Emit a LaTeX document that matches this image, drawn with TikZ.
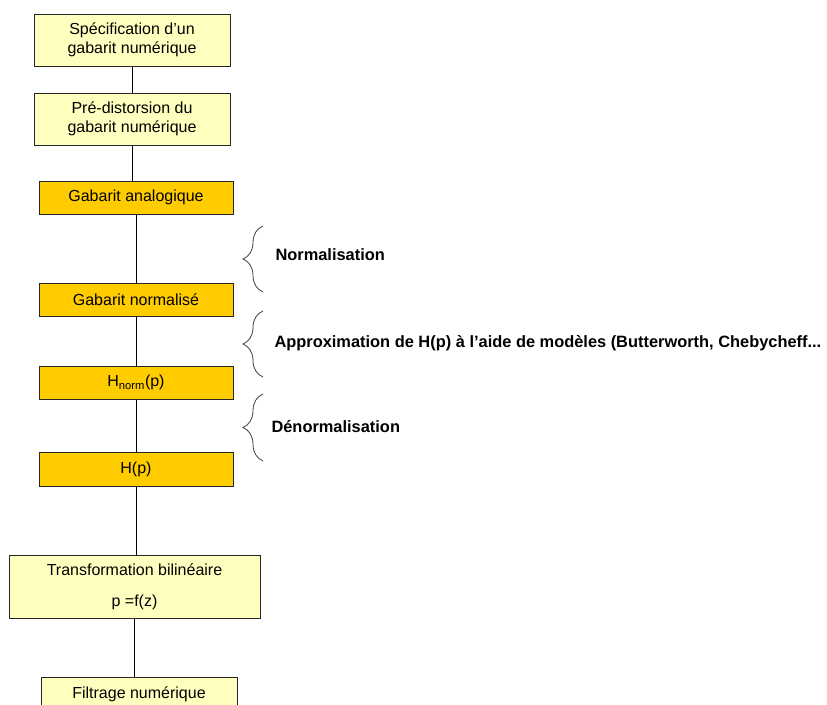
\documentclass[tikz,border=0pt]{standalone}
\usepackage{fontspec}
\setmainfont{Liberation Sans}
\usepackage{tikz}
\usetikzlibrary{positioning, decorations.pathreplacing}
\definecolor{paleyellow}{HTML}{FFFFC0}
\definecolor{gold}{HTML}{FFCC00}

\begin{document}
\begin{tikzpicture}[
    x=1pt, y=-1pt,
    every node/.style={font=\fontsize{16}{19.5}\selectfont},
    lightbox/.style={
        draw=black!85,
        fill=paleyellow,
        line width=1pt,
        inner sep=0pt,
        align=center
    },
    darkbox/.style={
        lightbox,
        fill=gold
    },
    link/.style={draw=black, line width=1pt},
    bracket/.style={
        draw=black!75,
        line width=0.8pt,
        decorate,
        decoration={brace, amplitude=20pt}
    },
    note/.style={anchor=west, font=\fontsize{16.4}{19.5}\selectfont\bfseries}
]
    \useasboundingbox (0,0) rectangle (827,704);
    \clip (0,0) rectangle (827,704);

    % chaine de conception
    \node[lightbox, minimum width=196pt, minimum height=52pt] (spec) at (132,40) {Spécification d'un\\gabarit numérique};
    \node[lightbox, minimum width=196pt, minimum height=52pt] (predist) at (132,119) {Pré-distorsion du\\gabarit numérique};
    \node[darkbox, minimum width=194pt, minimum height=33pt] (analog) at (136,197.5) {Gabarit analogique};
    \node[darkbox, minimum width=194pt, minimum height=33pt] (normal) at (136,299.5) {Gabarit normalisé};
    \node[darkbox, minimum width=194pt, minimum height=33pt] (hnorm) at (136,382.5) {H\textsubscript{norm}(p)};
    \node[darkbox, minimum width=194pt, minimum height=34pt] (hp) at (136,469) {H(p)};
    \node[lightbox, minimum width=251pt, minimum height=63pt] (bilin) at (134.5,587) {Transformation bilinéaire\\[11pt]p =f(z)};
    \node[lightbox, minimum width=196pt, minimum height=34pt] (filt) at (139,694) {Filtrage numérique};

    \draw[link] (spec.south) -- (spec.south |- predist.north);
    \draw[link] (predist.south) -- (predist.south |- analog.north);
    \draw[link] (analog.south) -- (analog.south |- normal.north);
    \draw[link] (normal.south) -- (normal.south |- hnorm.north);
    \draw[link] (hnorm.south) -- (hnorm.south |- hp.north);
    \draw[link] (hp.south) -- (hp.south |- bilin.north);
    \draw[link] (bilin.south) -- (bilin.south |- filt.north);

    % accolades et etapes
    \coordinate (normtop) at (263,226);
    \coordinate (normbot) at (263,292);
    \coordinate (approxtop) at (263,311);
    \coordinate (approxbot) at (263,377);
    \coordinate (denormtop) at (263,394);
    \coordinate (denormbot) at (263,461);

    \draw[bracket] (normbot) -- (normtop);
    \draw[bracket] (approxbot) -- (approxtop);
    \draw[bracket] (denormbot) -- (denormtop);

    \node[note] (normlabel) at (272,255) {Normalisation};
    \node[note] (approxlabel) at (271,343) {Approximation de H(p) à l'aide de modèles (Butterworth, Chebycheff...};
    \node[note] (denormlabel) at (268,427) {Dénormalisation};
\end{tikzpicture}
\end{document}
